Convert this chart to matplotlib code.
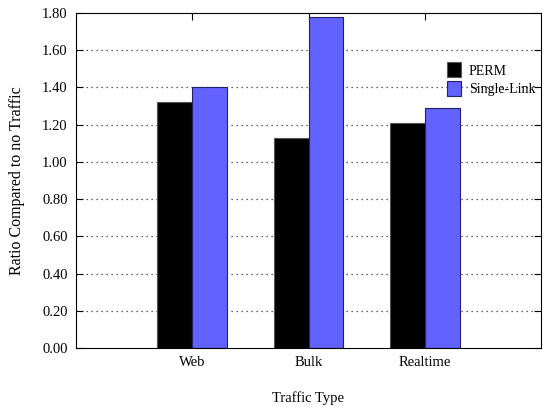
import matplotlib.pyplot as plt
import numpy as np

plt.rcParams['font.family'] = ['Liberation Serif', 'DejaVu Serif']

categories = ['Web', 'Bulk', 'Realtime']
perm = [1.32, 1.13, 1.21]
single_link = [1.40, 1.78, 1.29]
yticks = [0.0, 0.2, 0.4, 0.6, 0.8, 1.0, 1.2, 1.4, 1.6, 1.8]

x = np.arange(len(categories))
w = 0.3

fig = plt.figure(figsize=(5.45, 4.07), dpi=100)
ax = fig.add_axes([76 / 545, (407 - 348) / 407, (541 - 76) / 545, (348 - 13) / 407])

# dotted grid behind the bars
for y in yticks[1:-1]:
    ax.axhline(y, color='#333333', linestyle=(0, (1, 3)), linewidth=0.9, zorder=0)

ax.bar(x - w / 2, perm, w, color='black', edgecolor='#555555', linewidth=0.8,
       label='PERM', zorder=2)
ax.bar(x + w / 2, single_link, w, color='#6262ff', edgecolor='#222266', linewidth=0.8,
       label='Single-Link', zorder=2)

ax.set_xlim(-1, 3)
ax.set_ylim(0, 1.8)
ax.set_yticks(yticks)
ax.set_yticklabels(['%.2f' % v for v in yticks])
ax.set_xticks(x)
ax.set_xticklabels(categories)
ax.tick_params(axis='y', direction='in', length=5, right=True, labelsize=10.5, pad=6)
ax.tick_params(axis='x', direction='in', length=5, top=True, bottom=False,
               labelsize=10.5, pad=6)

ax.set_xlabel('Traffic Type', fontsize=10.5)
ax.xaxis.set_label_coords(0.5, -0.128)
ax.set_ylabel('Ratio Compared to no Traffic', fontsize=11.5)
ax.yaxis.set_label_coords(-0.11, 0.5)

leg = ax.legend(loc='upper right', bbox_to_anchor=(1.015, 0.89), frameon=False,
                fontsize=10, handlelength=1.0, handleheight=1.3,
                handletextpad=0.6, labelspacing=0.25)

plt.savefig('out.png', dpi=100)
